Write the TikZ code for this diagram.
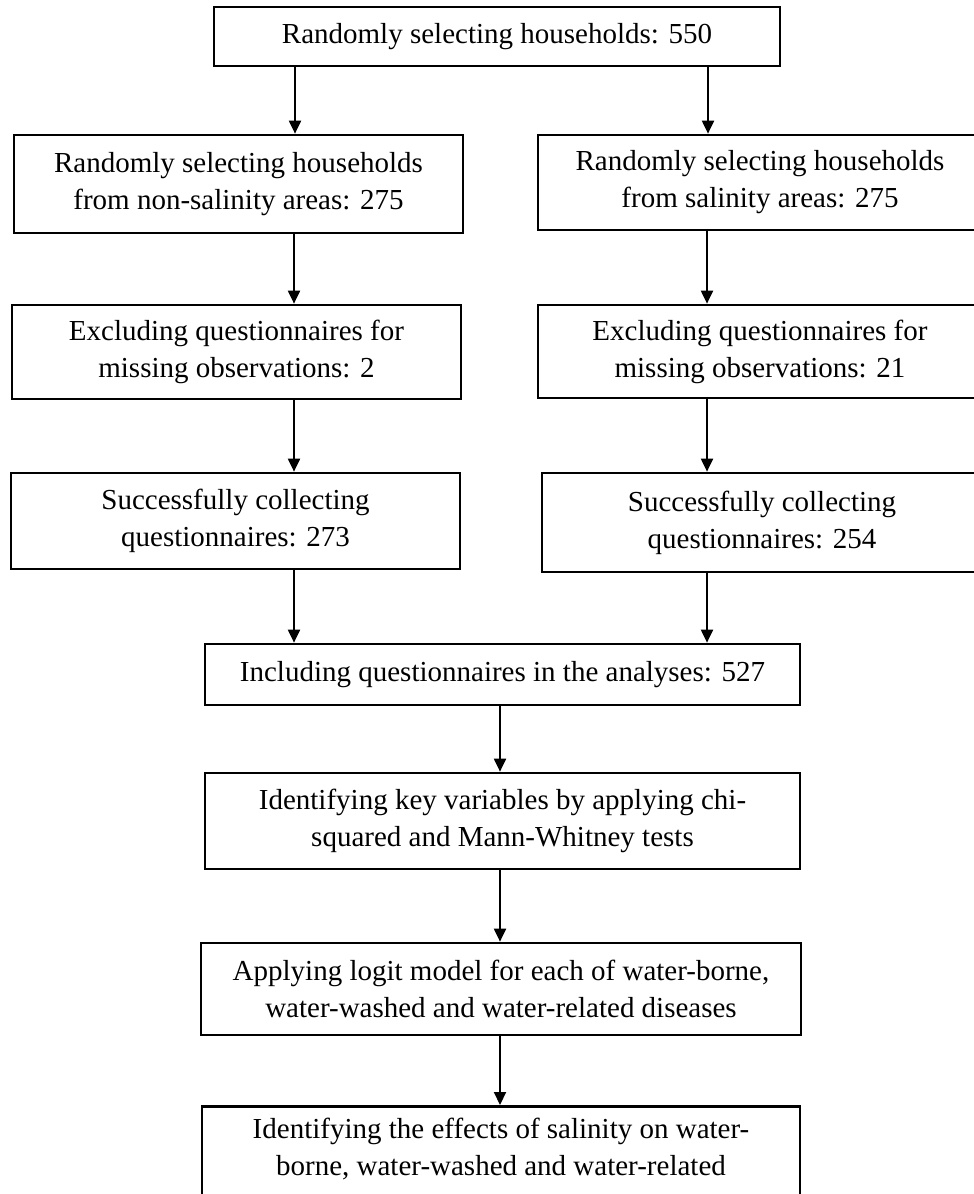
\documentclass[tikz,border=0pt]{standalone}
\usepackage{fontspec}
\setmainfont{Liberation Serif}
\usetikzlibrary{arrows.meta}
\begin{document}
\begin{tikzpicture}[x=1pt,y=-1pt,
  box/.style={draw, line width=2.7pt, align=center, inner sep=0pt,
    font=\fontsize{29}{37}\selectfont},
  arr/.style={line width=2pt, -{Triangle[width=12pt,length=13pt]}}]
\useasboundingbox (0,0) rectangle (974,1194);
\clip (0,0) rectangle (974,1194);
\node[box, minimum width=566, minimum height=59] (top) at (497,36.5) {Randomly selecting households: 550};
\node[box, minimum width=449, minimum height=98] (l2) at (238.5,184) {Randomly selecting households\\from non-salinity areas: 275};
\node[box, minimum width=444, minimum height=95] (r2) at (760,182.5) {Randomly selecting households\\from salinity areas: 275};
\node[box, minimum width=449, minimum height=94] (l3) at (236.5,352) {Excluding questionnaires for\\missing observations: 2};
\node[box, minimum width=444, minimum height=93] (r3) at (760,351.5) {Excluding questionnaires for\\missing observations: 21};
\node[box, minimum width=449, minimum height=96] (l4) at (235.5,521) {Successfully collecting\\questionnaires: 273};
\node[box, minimum width=440, minimum height=99] (r4) at (762,522.5) {Successfully collecting\\questionnaires: 254};
\node[box, minimum width=595, minimum height=61] (b5) at (502.5,674.5) {Including questionnaires in the analyses: 527};
\node[box, minimum width=595, minimum height=96] (b6) at (502.5,821) {Identifying key variables by applying chi-\\squared and Mann-Whitney tests};
\node[box, minimum width=600, minimum height=92] (b7) at (501,989) {Applying logit model for each of water-borne,\\water-washed and water-related diseases};
\node[box, minimum width=598, anchor=north, text depth=80pt, inner ysep=12pt] (b8) at (501,1105) {Identifying the effects of salinity on water-\\borne, water-washed and water-related};
\coordinate (xa) at (295,0);
\coordinate (xb) at (708,0);
\coordinate (xl) at (294,0);
\coordinate (xr) at (707,0);
\coordinate (xc) at (500,0);
\draw[arr] (top.south -| xa) -- (l2.north -| xa);
\draw[arr] (top.south -| xb) -- (r2.north -| xb);
\draw[arr] (l2.south -| xl) -- (l3.north -| xl);
\draw[arr] (r2.south -| xr) -- (r3.north -| xr);
\draw[arr] (l3.south -| xl) -- (l4.north -| xl);
\draw[arr] (r3.south -| xr) -- (r4.north -| xr);
\draw[arr] (l4.south -| xl) -- (b5.north -| xl);
\draw[arr] (r4.south -| xr) -- (b5.north -| xr);
\draw[arr] (b5.south -| xc) -- (b6.north -| xc);
\draw[arr] (b6.south -| xc) -- (b7.north -| xc);
\draw[arr] (b7.south -| xc) -- (b8.north -| xc);
\end{tikzpicture}
\end{document}
